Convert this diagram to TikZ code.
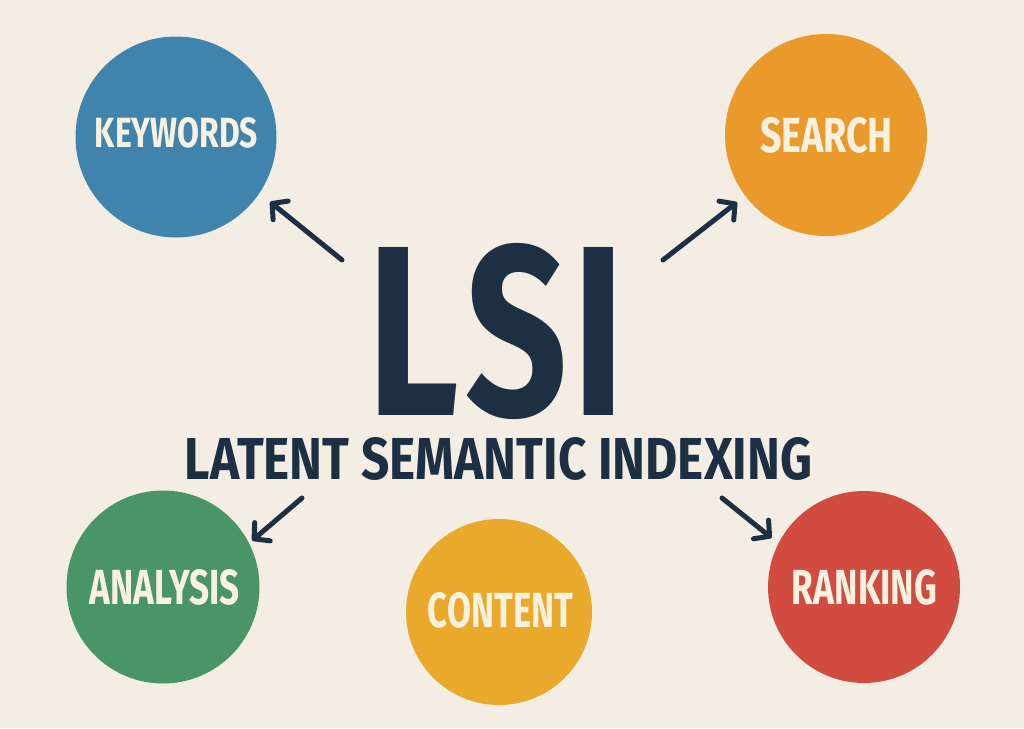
\documentclass[tikz,border=0pt]{standalone}
\usepackage{fontspec}
\setmainfont{Fira Sans}
\usepackage{graphicx}
\usetikzlibrary{arrows.meta}
\definecolor{bg}{HTML}{F3EDE3}
\definecolor{navy}{HTML}{1D3043}
\definecolor{cream}{HTML}{F8F1E0}
\definecolor{cblue}{HTML}{4084AE}
\definecolor{corange}{HTML}{E99A2A}
\definecolor{cgreen}{HTML}{4A9566}
\definecolor{cgold}{HTML}{E9AA2C}
\definecolor{cred}{HTML}{D24B40}
\tikzset{
  bubble/.style={circle, inner sep=0pt, minimum size=#1},
  blabel/.style={inner sep=0pt, text=cream, font=\bfseries},
  title/.style={inner sep=0pt, text=navy, font=\bfseries},
  link/.style={draw=navy, line width=5pt, line cap=round,
    -{Straight Barb[length=11pt,width=24pt,round]}}
}
\begin{document}
\begin{tikzpicture}[x=1pt,y=-1pt]
\fill[bg] (0,0) rectangle (1024,728);
\useasboundingbox (0,0) rectangle (1024,728);

\node[bubble=201pt, fill=cblue] (kw) at (176,137) {};
\node[bubble=202pt, fill=corange] (se) at (826,135) {};
\node[bubble=193pt, fill=cgreen] (an) at (163,587) {};
\node[bubble=186pt, fill=cgold] (co) at (499,612) {};
\node[bubble=192pt, fill=cred] (ra) at (864,587) {};

\node[blabel] (kwt) at (176.5,133) {\resizebox{163pt}{30pt}{KEYWORDS}};
\node[blabel] (set) at (826.5,135.5) {\resizebox{133pt}{35pt}{SEARCH}};
\node[blabel] (ant) at (165,587.5) {\resizebox{150pt}{35pt}{ANALYSIS}};
\node[blabel] (cot) at (500.5,610.5) {\resizebox{145pt}{35pt}{CONTENT}};
\node[blabel] (rat) at (864.5,587.5) {\resizebox{145pt}{35pt}{RANKING}};

\node[title] (lsi) at (496.5,331) {\resizebox{257pt}{172pt}{L\kern0.03em S\kern0.03em I}};
\node[title] (sub) at (498.5,459) {\resizebox{627pt}{42pt}{LATENT SEMANTIC INDEXING}};

\coordinate (t1) at (342,260);
\coordinate (t2) at (663,260);
\coordinate (t3) at (302,498);
\coordinate (t4) at (722,498);
\draw[link, shorten >=13.7pt] (t1) -- (kw.-34.7);
\draw[link, shorten >=10.4pt] (t2) -- (se.217);
\draw[link, shorten >=4pt] (t3) -- (an.27.8);
\draw[link, shorten >=8.7pt] (t4) -- (ra.153.4);
\end{tikzpicture}
\end{document}
